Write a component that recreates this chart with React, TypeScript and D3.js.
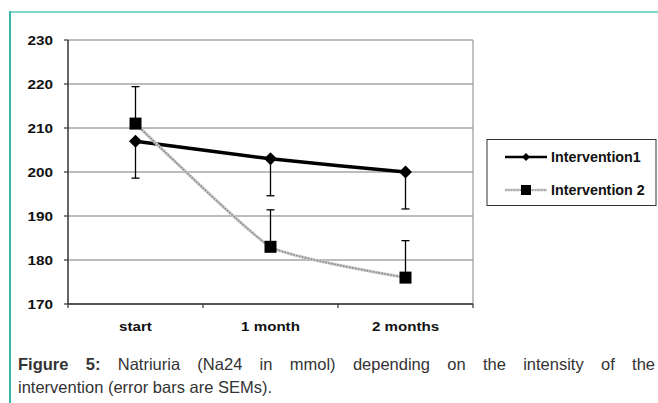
import React, { useLayoutEffect, useRef } from "react";
import * as d3 from "d3";

const categories = ["start", "1 month", "2 months"];
const intervention1 = [207, 203, 200];
const intervention2 = [211, 183, 176];
const sem1 = [8.4, 8.4, 8.4];
const sem2 = [8.4, 8.4, 8.4];
const yTicks = [170, 180, 190, 200, 210, 220, 230];
const seriesNames = ["Intervention1", "Intervention 2"];

const W = 658;
const H = 403;

export default function App() {
  const capRef = useRef<SVGTextElement>(null);

  useLayoutEffect(() => {
    const el = capRef.current;
    if (!el) return;
    el.setAttribute("word-spacing", "0");
    const w = el.getComputedTextLength();
    const spaces = (el.textContent || "").split(" ").length - 1;
    const ws = (637 - w) / spaces;
    el.setAttribute("word-spacing", String(Math.max(0, ws)));
  }, []);

  const x = d3.scaleBand<string>().domain(categories).range([68, 473]).paddingInner(0).paddingOuter(0);
  const y = d3.scaleLinear().domain([170, 230]).range([304, 40]);
  const cx = (c: string) => (x(c) as number) + x.bandwidth() / 2;

  const line = d3
    .line<number>()
    .x((_, i) => cx(categories[i]))
    .y((d) => y(d))
    .curve(d3.curveCardinal.tension(0.55));

  const diamond = (px: number, py: number, r: number) =>
    `M${px},${py - r}L${px + r},${py}L${px},${py + r}L${px - r},${py}Z`;

  const font = "Arial, 'Liberation Sans', Helvetica, sans-serif";
  const bands = [...categories.map((c) => x(c) as number), 473];

  return (
    <svg
      width={W}
      height={H}
      style={{ position: "absolute", left: 0, top: 0, background: "#fff" }}
      fontFamily={font}
    >
      <rect width={W} height={H} fill="#fff" />
      {/* frame */}
      <line x1={10} x2={W} y1={12} y2={12} stroke="#80d8cb" strokeWidth={2} />
      <line x1={10} x2={10} y1={11} y2={H} stroke="#3ab4a4" strokeWidth={2} />

      {/* gridlines */}
      {yTicks.map((t) => (
        <line key={t} x1={68} x2={473} y1={y(t)} y2={y(t)} stroke="#7a7a7a" strokeWidth={1.2} />
      ))}
      <line x1={473} x2={473} y1={40} y2={304} stroke="#999" strokeWidth={1.2} />
      {/* axes */}
      <line x1={68} x2={68} y1={40} y2={304} stroke="#333" strokeWidth={1.5} />
      <line x1={68} x2={473} y1={304} y2={304} stroke="#333" strokeWidth={1.5} />
      {yTicks.map((t) => (
        <line key={"yt" + t} x1={64} x2={68} y1={y(t)} y2={y(t)} stroke="#333" strokeWidth={1.2} />
      ))}
      {bands.map((b, i) => (
        <line key={"xt" + i} x1={b} x2={b} y1={304} y2={308} stroke="#333" strokeWidth={1.2} />
      ))}
      {yTicks.map((t) => (
        <text
          key={"yl" + t}
          transform={`translate(53,${y(t) + 4.8}) scale(1.15,1)`}
          textAnchor="end"
          fontSize={13.3}
          fontWeight="bold"
          fill="#111"
        >
          {t}
        </text>
      ))}
      {categories.map((c) => (
        <text
          key={c}
          transform={`translate(${cx(c)},${331}) scale(1.12,1)`}
          textAnchor="middle"
          fontSize={13.5}
          fontWeight="bold"
          fill="#111"
        >
          {c}
        </text>
      ))}

      {/* error bars */}
      {intervention1.map((v, i) => {
        const px = cx(categories[i]);
        return (
          <g key={"e1" + i} stroke="#000" strokeWidth={1.3}>
            <line x1={px} x2={px} y1={y(v)} y2={y(v - sem1[i])} />
            <line x1={px - 4} x2={px + 4} y1={y(v - sem1[i])} y2={y(v - sem1[i])} />
          </g>
        );
      })}
      {intervention2.map((v, i) => {
        const px = cx(categories[i]);
        return (
          <g key={"e2" + i} stroke="#000" strokeWidth={1.3}>
            <line x1={px} x2={px} y1={y(v)} y2={y(v + sem2[i])} />
            <line x1={px - 4} x2={px + 4} y1={y(v + sem2[i])} y2={y(v + sem2[i])} />
          </g>
        );
      })}

      {/* series lines */}
      <path d={line(intervention1) || ""} fill="none" stroke="#000" strokeWidth={3.5} />
      <path d={line(intervention2) || ""} fill="none" stroke="#c8c8c8" strokeWidth={3} />
      <path d={line(intervention2) || ""} fill="none" stroke="#8a8a8a" strokeWidth={1.6} strokeDasharray="1.5,1.5" />

      {/* markers */}
      {intervention1.map((v, i) => (
        <path key={"m1" + i} d={diamond(cx(categories[i]), y(v), 6.5)} fill="#000" />
      ))}
      {intervention2.map((v, i) => (
        <rect key={"m2" + i} x={cx(categories[i]) - 6} y={y(v) - 6} width={12} height={12} fill="#000" />
      ))}

      {/* legend */}
      <rect x={487} y={139.5} width={169} height={66} fill="#fff" stroke="#333" strokeWidth={1} />
      <line x1={505} x2={547} y1={157} y2={157} stroke="#000" strokeWidth={2.5} />
      <path d={diamond(526, 157, 4)} fill="#000" />
      <line x1={505} x2={547} y1={190} y2={190} stroke="#c8c8c8" strokeWidth={2.5} />
      <line x1={505} x2={547} y1={190} y2={190} stroke="#8a8a8a" strokeWidth={1.2} strokeDasharray="1.5,1.5" />
      <rect x={521} y={185} width={10} height={10} fill="#000" />
      {seriesNames.map((n, i) => (
        <text key={n} x={551} y={162 + i * 33} fontSize={14.3} fontWeight="bold" fill="#111">
          {n}
        </text>
      ))}

      {/* caption */}
      <text ref={capRef} x={18} y={370} fontSize={16.5} fill="#333">
        <tspan fontWeight="bold">Figure 5:</tspan>
        <tspan> Natriuria (Na24 in mmol) depending on the intensity of the</tspan>
      </text>
      <text x={18} y={393} fontSize={16.5} fill="#333">
        intervention (error bars are SEMs).
      </text>
    </svg>
  );
}
